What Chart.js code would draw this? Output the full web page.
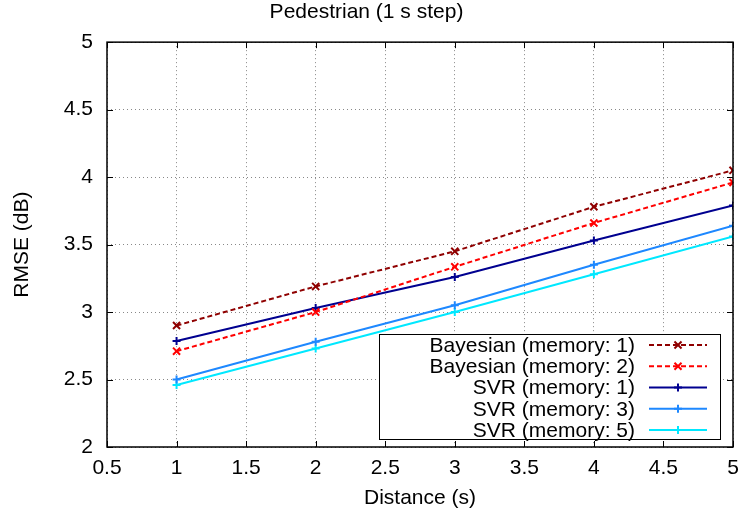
<!DOCTYPE html>
<html>
<head>
<meta charset="utf-8">
<title>Pedestrian (1 s step)</title>
<script src="https://cdn.jsdelivr.net/npm/chart.js@4/dist/chart.umd.min.js"></script>
<style>
body { margin: 0; background: #fff; }
#wrap { width: 741px; height: 517px; }
</style>
</head>
<body>
<div id="wrap"><canvas id="rmseChart" width="741" height="517"></canvas></div>
<script>
// values
let distances = [1, 2, 3, 4, 5];
let bayes1 = [2.90, 3.19, 3.45, 3.78, 4.05];
let bayes2 = [2.71, 3.00, 3.335, 3.66, 3.96];
let svr1 = [2.785, 3.03, 3.26, 3.53, 3.79];
let svr3 = [2.50, 2.78, 3.05, 3.35, 3.64];
let svr5 = [2.46, 2.73, 3.00, 3.28, 3.56];

let xTicks = [0.5, 1, 1.5, 2, 2.5, 3, 3.5, 4, 4.5, 5];
let yTicks = [2, 2.5, 3, 3.5, 4, 4.5, 5];

const FONT = "'Liberation Sans', Arial, Helvetica, sans-serif";
const FSIZE = 21;

function pts(ys) {
return distances.map((d, i) => ({ x: d, y: ys[i] }));
}

function series(label, ys, color, dash, marker) {
return {
label: label,
data: pts(ys),
borderColor: color,
backgroundColor: color,
borderWidth: 2,
borderDash: dash,
pointStyle: marker,
pointRadius: marker === 'crossRot' ? 5 : 4,
pointBorderWidth: 2,
pointBorderColor: color,
tension: 0
};
}

function drawMarker(ctx, style, x, y, r) {
ctx.beginPath();
if (style === 'crossRot') {
let o = r * 0.707;
ctx.moveTo(x - o, y - o); ctx.lineTo(x + o, y + o);
ctx.moveTo(x - o, y + o); ctx.lineTo(x + o, y - o);
} else {
ctx.moveTo(x - r, y); ctx.lineTo(x + r, y);
ctx.moveTo(x, y - r); ctx.lineTo(x, y + r);
}
ctx.stroke();
}

// gnuplot-like legend box inside the plot, text right aligned, sample on the right
const boxLegend = {
id: 'boxLegend',
afterDatasetsDraw(chart) {
const ctx = chart.ctx;
const left = 379, top = 334, right = 720, bottom = 439;
ctx.save();
ctx.fillStyle = '#fff';
ctx.fillRect(left, top, right - left, bottom - top);
ctx.strokeStyle = '#000';
ctx.lineWidth = 1;
ctx.strokeRect(left + 0.5, top + 0.5, right - left, bottom - top);
ctx.font = FSIZE + 'px ' + FONT;
ctx.textAlign = 'right';
ctx.textBaseline = 'middle';
chart.data.datasets.forEach((ds, i) => {
let y = 345 + i * 21.25;
ctx.fillStyle = '#000';
ctx.fillText(ds.label, 635, y + 1);
ctx.strokeStyle = ds.borderColor;
ctx.lineWidth = 2;
ctx.setLineDash(ds.borderDash || []);
ctx.beginPath();
ctx.moveTo(649, y); ctx.lineTo(707, y);
ctx.stroke();
ctx.setLineDash([]);
drawMarker(ctx, ds.pointStyle, 678, y, ds.pointStyle === 'crossRot' ? 5 : 4);
});
ctx.restore();
}
};

// frame and inward ticks on all four sides
const frame = {
id: 'frame',
afterDraw(chart) {
const ctx = chart.ctx;
const a = chart.chartArea;
const xs = chart.scales.x, ys = chart.scales.y;
ctx.save();
ctx.strokeStyle = '#000';
ctx.lineWidth = 1.5;
ctx.strokeRect(a.left, a.top, a.right - a.left, a.bottom - a.top);
ctx.lineWidth = 1;
ctx.beginPath();
xTicks.forEach(v => {
let px = Math.round(xs.getPixelForValue(v)) + 0.5;
ctx.moveTo(px, a.bottom); ctx.lineTo(px, a.bottom - 6);
ctx.moveTo(px, a.top); ctx.lineTo(px, a.top + 6);
});
yTicks.forEach(v => {
let py = Math.round(ys.getPixelForValue(v)) + 0.5;
ctx.moveTo(a.left, py); ctx.lineTo(a.left + 6, py);
ctx.moveTo(a.right, py); ctx.lineTo(a.right - 6, py);
});
ctx.stroke();
ctx.restore();
}
};

function makeChart() {
const ctx = document.getElementById('rmseChart').getContext('2d');
return new Chart(ctx, {
type: 'line',
data: {
datasets: [
series('Bayesian (memory: 1)', bayes1, '#8f0000', [5, 3], 'crossRot'),
series('Bayesian (memory: 2)', bayes2, '#ff0000', [5, 3], 'crossRot'),
series('SVR (memory: 1)', svr1, '#000090', [], 'cross'),
series('SVR (memory: 3)', svr3, '#1e88ff', [], 'cross'),
series('SVR (memory: 5)', svr5, '#00e8ff', [], 'cross')
]
},
options: {
responsive: false,
animation: false,
devicePixelRatio: 1,
layout: { padding: { left: 0, right: 8, top: 0, bottom: 0 } },
plugins: {
legend: { display: false },
tooltip: { enabled: false },
title: {
display: true,
text: 'Pedestrian (1 s step)',
color: '#000',
font: { family: FONT, size: FSIZE, weight: 'normal', lineHeight: 1.15 },
padding: { top: 0, bottom: 18 }
}
},
scales: {
x: {
type: 'linear',
min: 0.5,
max: 5,
afterBuildTicks: s => { s.ticks = xTicks.map(v => ({ value: v })); },
afterFit: s => { s.height = 70; s.paddingLeft = 0; s.paddingRight = 0; },
ticks: {
color: '#000',
padding: 9,
font: { family: FONT, size: FSIZE },
callback: v => String(v)
},
grid: { color: '#888', lineWidth: 1, drawTicks: false },
border: { display: false, dash: [1, 3] },
title: {
display: true,
text: 'Distance (s)',
color: '#000',
font: { family: FONT, size: FSIZE },
padding: { top: 0, bottom: 6 }
}
},
y: {
type: 'linear',
min: 2,
max: 5,
afterBuildTicks: s => { s.ticks = yTicks.map(v => ({ value: v })); },
afterFit: s => { s.width = 107; s.paddingTop = 0; s.paddingBottom = 0; },
ticks: {
color: '#000',
padding: 14,
font: { family: FONT, size: FSIZE },
callback: v => String(v)
},
grid: { color: '#888', lineWidth: 1, drawTicks: false },
border: { display: false, dash: [1, 3] },
title: {
display: true,
text: 'RMSE (dB)',
color: '#000',
font: { family: FONT, size: FSIZE },
padding: { top: 10, bottom: 0 }
}
}
}
},
plugins: [boxLegend, frame]
});
}

makeChart();
</script>
</body>
</html>
